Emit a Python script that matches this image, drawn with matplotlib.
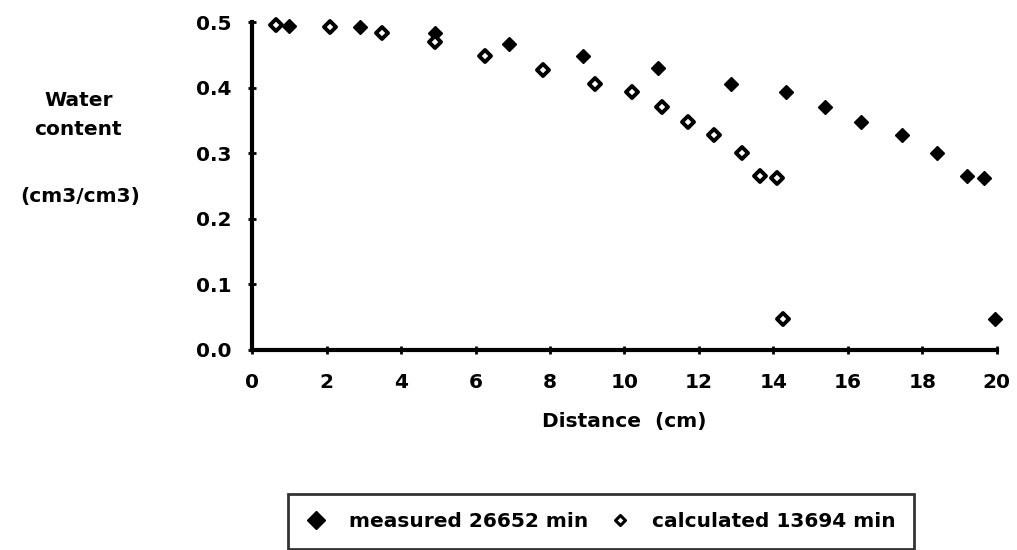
import matplotlib
matplotlib.use("Agg")
import matplotlib.pyplot as plt
from matplotlib.markers import MarkerStyle

plt.rcParams['font.family'] = ['DejaVu Sans']
plt.rcParams['font.weight'] = 'bold'

# measured 26652 min
meas_x = [1.0, 2.9, 4.9, 6.9, 8.9, 10.9, 12.85, 14.35, 15.4, 16.35, 17.45, 18.4, 19.2, 19.65, 19.95]
meas_y = [0.494, 0.492, 0.483, 0.466, 0.448, 0.430, 0.405, 0.393, 0.370, 0.347, 0.328, 0.300, 0.265, 0.262, 0.047]

# calculated 13694 min
calc_x = [0.65, 2.1, 3.5, 4.9, 6.25, 7.8, 9.2, 10.2, 11.0, 11.7, 12.4, 13.15, 13.65, 14.1, 14.25]
calc_y = [0.495, 0.492, 0.483, 0.469, 0.448, 0.427, 0.405, 0.393, 0.370, 0.347, 0.328, 0.300, 0.265, 0.262, 0.047]

x_ticks = [0, 2, 4, 6, 8, 10, 12, 14, 16, 18, 20]
y_ticks = [0.0, 0.1, 0.2, 0.3, 0.4, 0.5]

FS = 14.5

fig = plt.figure(figsize=(10.17, 5.5), dpi=100)
ax = fig.add_axes([0.248, 0.364, 0.732, 0.596])

ax.plot(meas_x, meas_y, linestyle='none', marker='D', markersize=7.5,
        color='black', label='measured 26652 min')
ax.plot(calc_x, calc_y, linestyle='none',
        marker=MarkerStyle('D', joinstyle='round'), markersize=6.5,
        markerfacecolor='white', markeredgecolor='black', markeredgewidth=2.8,
        label='calculated 13694 min')

ax.set_xlim(0, 20)
ax.set_ylim(0, 0.5)
ax.set_xticks(x_ticks)
ax.set_yticks(y_ticks)
ax.set_yticklabels([f"{v:.1f}" for v in y_ticks])
ax.tick_params(direction='inout', length=6, width=2, labelsize=FS)
ax.tick_params(axis='x', pad=14)
ax.tick_params(axis='y', pad=12)
for s in ['top', 'right']:
    ax.spines[s].set_visible(False)
for s in ['left', 'bottom']:
    ax.spines[s].set_linewidth(3)
    ax.spines[s].set_zorder(0)
for m in ax.lines:
    m.set_clip_on(False)

ax.set_xlabel('Distance  (cm)', fontsize=FS, fontweight='bold', labelpad=14)

fig.text(0.077, 0.818, 'Water', ha='center', va='center', fontsize=FS)
fig.text(0.077, 0.764, 'content', ha='center', va='center', fontsize=FS)
fig.text(0.079, 0.642, '(cm3/cm3)', ha='center', va='center', fontsize=FS)

leg = fig.legend(loc='center', bbox_to_anchor=(0.591, 0.052), ncol=2,
                 fontsize=FS, frameon=True, fancybox=False, handletextpad=1.1,
                 columnspacing=1.1, handlelength=1.0, borderpad=0.9,
                 borderaxespad=0)
leg.get_frame().set_edgecolor('black')
leg.get_frame().set_linewidth(2)
leg.legend_handles[0].set_markersize(9)
leg.legend_handles[1].set_markersize(5)
leg.legend_handles[1].set_markeredgewidth(2.2)

fig.savefig('out.png', dpi=100)
